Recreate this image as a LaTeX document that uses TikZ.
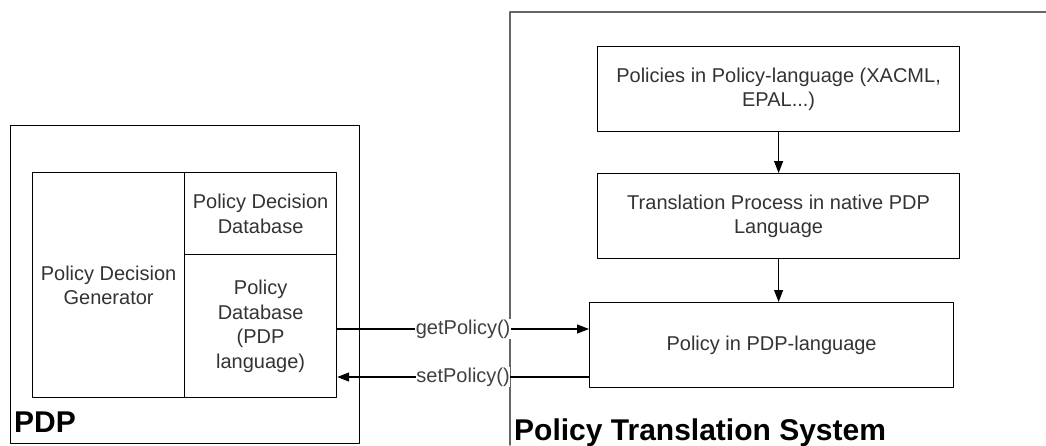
\documentclass[tikz,border=0pt]{standalone}
\usepackage{fontspec}
\setmainfont{Liberation Sans}
\usetikzlibrary{arrows.meta}

\tikzset{
	box/.style={draw, line width=1.2pt, anchor=north west, align=center, inner sep=1pt,
		text=black!80, font=\fontsize{20}{24.5}\selectfont},
	flow/.style={-{Triangle[length=12pt,width=9pt]}, line width=1.2pt},
	lbl/.style={fill=white, inner sep=0.5pt, text=black!75, font=\fontsize{20}{24}\selectfont},
	title/.style={anchor=base west, inner sep=0pt, font=\bfseries\fontsize{30}{36}\selectfont},
}

\begin{document}
\begin{tikzpicture}[x=1pt, y=-1pt, line cap=round, line join=round]
	\useasboundingbox (0,0) rectangle (1046,445);
	% PDP side
	\node[box, line width=1.4pt, minimum width=349, minimum height=318] (pdp) at (10,125) {};
	\node[title] (pdplbl) at (14,432) {PDP};
	\node[box, minimum width=152, minimum height=225] (gen) at (32,172) {Policy Decision\\Generator};
	\node[box, minimum width=152, minimum height=82] (decdb) at (184,172) {Policy Decision\\Database};
	\node[box, minimum width=152, minimum height=143] (poldb) at (184,254) {Policy\\Database\\(PDP\\language)};
	% translation system
	\draw[black!60, line width=1.5pt] (510,445) |- (1046,12);
	\node[title] (ptslbl) at (514,440) {Policy Translation System};
	\node[box, minimum width=362, minimum height=85] (src) at (597,46) {Policies in Policy-language (XACML,\\EPAL...)};
	\node[box, minimum width=362, minimum height=85] (trans) at (597,173) {Translation Process in native PDP\\Language};
	\node[box, minimum width=364, minimum height=85] (pol) at (589,302) {Policy in PDP-language};
	\draw[flow] (src) -- (trans);
	\draw[flow] (trans.south) -- (trans.south |- pol.north);
	% calls
	\coordinate (get) at (0,329);
	\coordinate (set) at (0,377);
	\draw[flow] (poldb.east |- get) -- node[lbl] {getPolicy()} (pol.west |- get);
	\draw[flow] (pol.west |- set) -- node[lbl] {setPolicy()} (poldb.east |- set);
\end{tikzpicture}
\end{document}
